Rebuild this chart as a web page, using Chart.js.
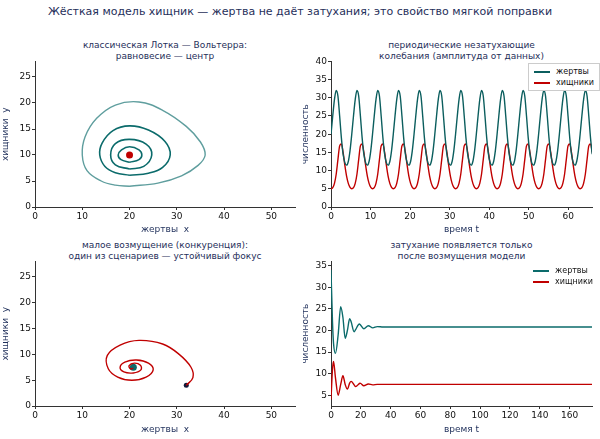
<!DOCTYPE html>
<html><head><meta charset="utf-8">
<script src="https://cdn.jsdelivr.net/npm/chart.js@4/dist/chart.umd.min.js"></script>
<style>
body{margin:0;width:600px;height:439px;background:#fff;position:relative;font-family:"DejaVu Sans",sans-serif;overflow:hidden}
canvas{position:absolute}
.t{position:absolute;text-align:center;color:#1f2f5a;font-size:9px;line-height:11px}
.lg{position:absolute;font-size:8px;color:#111;line-height:11px;white-space:nowrap}
.lg span{display:inline-block;width:16px;height:2px;vertical-align:middle;margin-right:6px}
</style></head><body>
<div class="t" style="left:0;width:600px;top:6px;font-size:11px">Жёсткая модель хищник — жертва не даёт затухания; это свойство мягкой поправки</div>
<div class="t" style="left:35px;width:260px;top:40px">классическая Лотка — Вольтерра:<br>равновесие — центр</div>
<div class="t" style="left:331px;width:261px;top:40px">периодические незатухающие<br>колебания (амплитуда от данных)</div>
<div class="t" style="left:35px;width:260px;top:240px">малое возмущение (конкуренция):<br>один из сценариев — устойчивый фокус</div>
<div class="t" style="left:331px;width:261px;top:240px">затухание появляется только<br>после возмущения модели</div>
<canvas id="c1" width="300" height="180" style="left:0;top:55px"></canvas>
<canvas id="c2" width="300" height="180" style="left:300px;top:55px"></canvas>
<canvas id="c3" width="300" height="180" style="left:0;top:255px"></canvas>
<canvas id="c4" width="300" height="180" style="left:300px;top:255px"></canvas>
<div class="lg" style="left:528px;top:63px;border:1px solid #ccc;padding:2px 5px;background:#fff">
<div><span style="background:#0b5e5e"></span>жертвы</div><div><span style="background:#c00000"></span>хищники</div></div>
<div class="lg" style="left:533px;top:265px">
<div><span style="background:#0b6b6b"></span>жертвы</div><div><span style="background:#c00000"></span>хищники</div></div>
<script>
// phase orbits (x, y)
const orbit1 = [[20,4],[26,4.6],[31,6],[34.5,8],[36,10],[35,12.5],[32,15.5],[27,18.6],[22,20.2],[17,19.6],[13,17],[10.6,13.5],[10,10],[11,7],[14,5],[17,4.2],[20,4]];
const orbit2 = [[20,6.1],[24,6.5],[27,7.6],[28.6,10],[27.5,12.6],[24,14.8],[20,15.6],[16.5,14.7],[14.2,12.3],[13.7,10],[14.8,7.8],[17,6.6],[20,6.1]];
const orbit3 = [[20,7.3],[23,7.8],[24.7,10],[23.5,12.1],[20,13],[17,12.2],[16,10],[17,8.1],[20,7.3]];
const orbit4 = [[20,8.6],[22,9.1],[22.6,10],[22,11],[20,11.6],[18.3,11],[17.6,10],[18.2,9.1],[20,8.6]];
const equilibrium = [[20,10]];
// one cycle of the undamped series, period ~5.25
const period = 5.25;
const preyCycle = [20,25,29.5,32,30.5,25,19,14.5,12.2,11.5,12.5,15.5];
const predCycle = [5,5.3,6.5,9,13,16.8,17.3,15,11.5,8.5,6.5,5.4];
// spiral of the perturbed model
const spiral = [[32,4],[33.4,5.5],[33,7.5],[30.5,10],[27,12],[22,12.7],[18,11.8],[15.3,9.8],[15.5,7.2],[17.5,5.6],[20.5,5],[23.5,5.6],[25,7],[24,8.3],[21.5,8.9],[19,8.5],[18,7.5],[18.8,6.6],[20.8,6.4],[22.4,7],[22.3,7.9],[21,8.3],[19.9,7.8],[20.2,7.2],[20.8,7.3]];
const spiralStart = [[32,4]];
const spiralEnd = [[20.8,7.5]];
// damped time series
const dampT = [0,1,1.7,3,4.8,6.5,8,9.5,11,12.5,13.5,15.5,16.5,19,19.5,22,25,28,31,35,40,175];
const dampPrey = [34,22,17,14.7,19,25.5,23,18.2,20,22.7,22,19.7,20.2,21.5,21.4,20.4,21.1,20.6,20.9,20.8,20.8,20.8];
const dampPred = [4,11,12.8,9,5,7.5,9.5,7.5,6.4,7.8,8.2,7.4,7,7.7,7.8,7.2,7.6,7.4,7.5,7.5,7.5,7.5];
const phaseTicksX = [0,10,20,30,40,50];
const phaseTicksY = [0,5,10,15,20,25];
const seriesTicksX = [0,10,20,30,40,50,60];
const seriesTicksY = [0,5,10,15,20,25,30,35,40];
const dampTicksX = [0,20,40,60,80,100,120,140,160];
const dampTicksY = [5,10,15,20,25,30,35];

const TEAL = '#0b6b6b', TEAL_L = '#5f9e9e', RED = '#c00000', NAVY = '#1f2f5a';
Chart.defaults.font.family = '"DejaVu Sans", sans-serif';
Chart.defaults.animation = false;

const pts = a => a.map(p => ({x: p[0], y: p[1]}));
const line = (data, color, w, tension) => ({data: pts(data), showLine: true, borderColor: color, borderWidth: w, pointRadius: 0, tension: tension, fill: false});
const dot = (data, color, r) => ({data: pts(data), showLine: false, pointRadius: r, backgroundColor: color, borderWidth: 0});

function axis(min, max, ticks, title, size) {
  return {
    type: 'linear', min: min, max: max,
    afterBuildTicks: s => { s.ticks = ticks.map(v => ({value: v})); },
    afterFit: s => { if (s.isHorizontal()) s.height = size; else s.width = size; },
    ticks: {color: '#111', font: {size: 9}, padding: 1, maxRotation: 0},
    grid: {drawOnChartArea: false, drawTicks: true, tickLength: 3, color: '#333'},
    border: {color: '#333', width: 1},
    title: {display: true, text: title, color: NAVY, font: {size: 9}, padding: 0}
  };
}

function make(id, datasets, xs, ys, pad) {
  new Chart(document.getElementById(id), {
    type: 'scatter',
    data: {datasets: datasets},
    options: {
      responsive: false,
      layout: {padding: pad},
      plugins: {legend: {display: false}, tooltip: {enabled: false}},
      scales: {x: xs, y: ys}
    }
  });
}

make('c1', [line(orbit1, TEAL_L, 1.4, 0.4), line(orbit2, TEAL, 1.6, 0.4), line(orbit3, TEAL, 1.6, 0.4), line(orbit4, TEAL, 1.6, 0.4), dot(equilibrium, RED, 3.5)],
  axis(0, 55, phaseTicksX, 'жертвы  x', 28), axis(0, 28, phaseTicksY, 'хищники  y', 35), {top: 5, right: 5, left: 0, bottom: 0});

const preyTS = [], predTS = [];
for (let k = 0; k * period / preyCycle.length <= 66.5; k++) {
  const t = k * period / preyCycle.length;
  preyTS.push({x: t, y: preyCycle[k % preyCycle.length]});
  predTS.push({x: t, y: predCycle[k % predCycle.length]});
}
make('c2', [
  {data: preyTS, showLine: true, borderColor: '#0b5e5e', borderWidth: 1.4, pointRadius: 0, cubicInterpolationMode: 'monotone'},
  {data: predTS, showLine: true, borderColor: RED, borderWidth: 1.4, pointRadius: 0, cubicInterpolationMode: 'monotone'}],
  axis(0, 66, seriesTicksX, 'время t', 28), axis(0, 40, seriesTicksY, 'численность', 31), {top: 6, right: 8, left: 0, bottom: 0});

make('c3', [line(spiral, RED, 1.4, 0.4), dot(spiralStart, '#111a3a', 2.5), dot(spiralEnd, TEAL, 3.5)],
  axis(0, 55, phaseTicksX, 'жертвы  x', 29), axis(0, 28, phaseTicksY, 'хищники  y', 35), {top: 4, right: 5, left: 0, bottom: 0});

make('c4', [
  {data: dampT.map((t, i) => ({x: t, y: dampPrey[i]})), showLine: true, borderColor: TEAL, borderWidth: 1.4, pointRadius: 0, cubicInterpolationMode: 'monotone'},
  {data: dampT.map((t, i) => ({x: t, y: dampPred[i]})), showLine: true, borderColor: RED, borderWidth: 1.4, pointRadius: 0, cubicInterpolationMode: 'monotone'}],
  axis(0, 175, dampTicksX, 'время t', 29), axis(2.5, 36, dampTicksY, 'численность', 31), {top: 4, right: 8, left: 0, bottom: 0});
</script>
</body></html>
